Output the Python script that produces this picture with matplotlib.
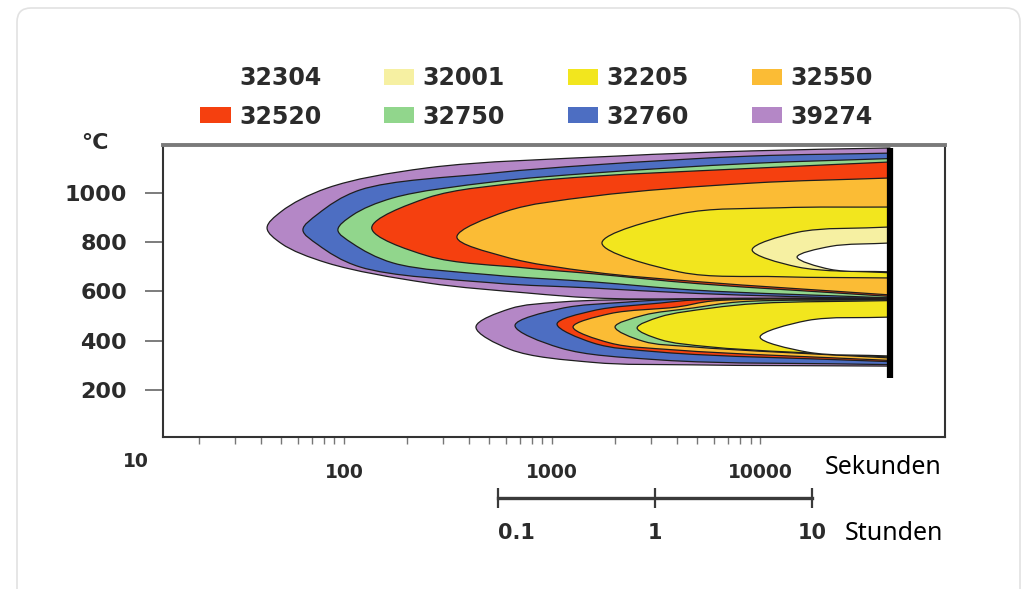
#!/usr/bin/env python

import numpy as np
import matplotlib as mpl; mpl.use("Agg")
import matplotlib.pyplot as plt
from matplotlib.path import Path
from matplotlib.patches import PathPatch, Patch, FancyBboxPatch
from matplotlib.transforms import IdentityTransform

# Data (time in s, temperature in °C)
# ------------------------------------------------------------------------------
legend_codes = ["32304", "32520", "32001", "32750", "32205", "32760", "32550", "39274"]
code_colors = {
    "32304": "#ffffff",
    "32001": "#f6f0a2",
    "32205": "#f2e61e",
    "32550": "#fbbc35",
    "32520": "#f5400f",
    "32750": "#91d68c",
    "32760": "#4d6ec2",
    "39274": "#b487c6",
}

# upper nose (outlines: right top -> nose -> right bottom)
upper_order = ["39274", "32760", "32750", "32520", "32550", "32205", "32001", "32304"]
upper_39274 = [(42170, 1183), (9060, 1171), (2050, 1150), (251, 1102), (83, 1020), (50, 925),
               (42.7, 858), (50, 795), (83, 716), (251, 635), (758, 594), (1575, 574),
               (5000, 567), (42170, 562)]
upper_32760 = [(42170, 1162), (9000, 1150), (1575, 1114), (520, 1081), (119, 1012), (75, 915),
               (63.5, 850), (75, 790), (119, 700), (520, 635), (1575, 614), (5000, 592),
               (42170, 568)]
upper_32750 = [(42170, 1140), (9000, 1120), (1575, 1081), (520, 1045), (172, 980), (110, 910),
               (93.5, 850), (110, 795), (172, 716), (520, 667), (1575, 639), (5000, 605),
               (42170, 574)]
upper_32520 = [(42170, 1126), (9000, 1100), (1575, 1068), (758, 1045), (251, 980),
               (136, 858), (251, 745), (758, 695), (1575, 672), (5000, 632), (42170, 580)]
upper_32550 = [(42170, 1061), (9000, 1040), (1575, 987), (600, 925),
               (349, 821), (600, 740), (1575, 679), (5000, 640), (42170, 586)]
upper_32205 = [(42170, 943), (12480, 940), (4125, 915),
               (1738, 797), (4125, 679), (12480, 660), (42170, 655)]
upper_32001 = [(42170, 862), (15060, 840),
               (9160, 769), (15060, 700), (42170, 676)]
upper_32304 = [(42170, 797), (21720, 783),
               (15060, 740), (21720, 690), (42170, 680)]

# lower nose
lower_order = ["39274", "32760", "32520", "32550", "32750", "32205", "32304"]
lower_39274 = [(42170, 574), (4000, 570), (1092, 557), (628, 530),
               (431, 456), (628, 365), (1575, 312), (4760, 302), (42170, 297)]
lower_32760 = [(42170, 572), (4000, 568), (2295, 557), (1092, 530),
               (664, 462), (1092, 371), (3306, 322), (42170, 303)]
lower_32520 = [(42170, 570), (5000, 566), (3306, 553), (1575, 522),
               (1057, 468), (1575, 391), (3306, 354), (42170, 315)]
lower_32550 = [(42170, 568), (6000, 562), (3990, 537), (1900, 510),
               (1262, 456), (1900, 391), (3990, 362), (42170, 320)]
lower_32750 = [(42170, 566), (8000, 558), (4760, 533), (2740, 503),
               (2009, 456), (2740, 398), (4760, 375), (42170, 330)]
lower_32205 = [(42170, 563), (10000, 552), (5750, 532), (3306, 497),
               (2565, 452), (3306, 405), (5750, 375), (42170, 334)]
lower_32304 = [(42170, 496), (16830, 482),
               (10000, 415), (16830, 354), (42170, 338)]

end_time = 42170
end_temps = (249, 1183)
temp_ticks = [200, 400, 600, 800, 1000]
sec_ticks = [100, 1000, 10000]
sec_minor = [k * d for d in (10, 100, 1000) for k in range(2, 10)]
hour_ticks = [0.1, 1, 10]

upper = dict(zip(upper_order, [upper_39274, upper_32760, upper_32750, upper_32520,
                               upper_32550, upper_32205, upper_32001, upper_32304]))
lower = dict(zip(lower_order, [lower_39274, lower_32760, lower_32520, lower_32550,
                               lower_32750, lower_32205, lower_32304]))

# Figure
# ------------------------------------------------------------------------------
W, H = 1025, 589
fig = plt.figure(figsize=(W / 100, H / 100), dpi=100)
fig.add_artist(FancyBboxPatch((17, -20), 1003, 601, boxstyle="round,pad=0,rounding_size=14",
                              transform=IdentityTransform(), ec="#e2e2e2", fc="none", lw=1.2))

num_font = dict(family="DejaVu Sans", weight="bold", color="#2b2b2b")

ax = fig.add_axes([163 / W, (H - 437) / H, (945 - 163) / W, (437 - 145) / H])
ax.set_xscale("log")
ax.set_xlim(13.5, 77400)
ax.set_ylim(9, 1195)

# Smooth outline: centripetal Catmull-Rom through the points, done on screen
# ------------------------------------------------------------------------------
def outline(points):
    D = ax.transData.transform(points)
    ext = np.vstack([2 * D[0] - D[1], D, 2 * D[-1] - D[-2]])
    verts = [D[0]]
    codes = [Path.MOVETO]
    for i in range(1, len(D)):
        p0, p1, p2, p3 = ext[i - 1], ext[i], ext[i + 1], ext[i + 2]
        d1 = np.linalg.norm(p1 - p0) ** 0.5
        d2 = np.linalg.norm(p2 - p1) ** 0.5
        d3 = np.linalg.norm(p3 - p2) ** 0.5
        b1 = (d1**2 * p2 - d2**2 * p0 + (2 * d1**2 + 3 * d1 * d2 + d2**2) * p1) / (3 * d1 * (d1 + d2))
        b2 = (d3**2 * p1 - d2**2 * p3 + (2 * d3**2 + 3 * d3 * d2 + d2**2) * p2) / (3 * d3 * (d3 + d2))
        verts += [b1, b2, p2]
        codes += [Path.CURVE4] * 3
    verts.append(D[0])
    codes.append(Path.CLOSEPOLY)
    return Path(ax.transData.inverted().transform(np.array(verts)), codes)

for group, order in ((upper, upper_order), (lower, lower_order)):
    for code in order:
        ax.add_patch(PathPatch(outline(group[code]), facecolor=code_colors[code],
                               edgecolor="#1e1e1e", lw=0.9))

ax.vlines(end_time, *end_temps, color="black", lw=4.5, zorder=5)

# axes styling
for side in ("left", "right", "bottom"):
    ax.spines[side].set_color("#333333")
    ax.spines[side].set_linewidth(1.5)
ax.spines["top"].set_color("#7a7a7a")
ax.spines["top"].set_linewidth(2.8)

ax.set_yticks(temp_ticks)
ax.set_yticklabels([str(v) for v in temp_ticks], fontsize=16, **num_font)
ax.tick_params(axis="y", direction="out", length=13, width=1.2, color="#666666", pad=13)

ax.set_xticks(sec_ticks)
ax.set_xticklabels([str(v) for v in sec_ticks], fontsize=13.5, **num_font)
ax.xaxis.set_minor_locator(mpl.ticker.FixedLocator(sec_minor))
ax.xaxis.set_minor_formatter(mpl.ticker.NullFormatter())
ax.tick_params(axis="x", which="both", direction="out", length=5, width=1,
               color="#777777", pad=14)
ax.text(10, -0.085, "10", transform=ax.get_xaxis_transform(), ha="center", va="center",
        fontsize=13.5, clip_on=False, **num_font)
fig.text(825 / W, 1 - 468 / H, "Sekunden", ha="left", va="center", fontsize=18,
         family="Noto Sans", color="black")
fig.text(95 / W, 1 - 143 / H, "°C", ha="center", va="center", fontsize=16, **num_font)

# hours bar
hx = fig.add_axes([498 / W, (H - 498) / H, (812 - 498) / W, 0.0001])
hx.set_xscale("log")
hx.set_xlim(hour_ticks[0], hour_ticks[-1])
hx.set_yticks([])
for side in ("left", "right", "top"):
    hx.spines[side].set_visible(False)
hx.spines["bottom"].set_color("#3a3a3a")
hx.spines["bottom"].set_linewidth(2.4)
hx.set_xticks(hour_ticks)
hx.set_xticklabels(["0.1", "1", "10"], fontsize=15, **num_font)
hx.get_xticklabels()[0].set_ha("left")
hx.xaxis.set_minor_locator(mpl.ticker.NullLocator())
hx.tick_params(axis="x", direction="inout", length=14, width=1.6, color="#3a3a3a", pad=11)
fig.text(845 / W, 1 - 533 / H, "Stunden", ha="left", va="center", fontsize=18,
         family="Noto Sans", color="black")

# legend
handles = [Patch(facecolor=code_colors[c], edgecolor="none") for c in legend_codes]
fig.legend(handles, legend_codes, ncol=4, loc="upper left",
           bbox_to_anchor=(200 / W, 1 - 66 / H), frameon=False,
           prop=dict(family="DejaVu Sans", weight="bold", size=17),
           labelcolor="#2b2b2b", handlelength=1.3, handleheight=0.65,
           handletextpad=0.35, columnspacing=2.65, labelspacing=0.62,
           borderpad=0, borderaxespad=0)

fig.savefig("out.png", dpi=100)
